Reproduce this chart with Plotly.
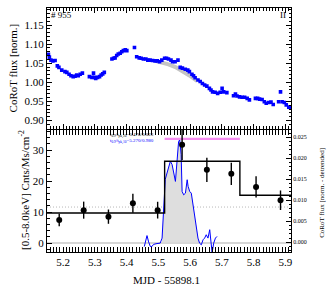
import plotly.graph_objects as go

# ---------------- data ----------------
# Top panel: CoRoT light curve (MJD - 55898.1, normalised flux)
corot_t = [5.154, 5.157, 5.162, 5.168, 5.175, 5.182, 5.187, 5.196, 5.206, 5.212,
           5.219, 5.225, 5.232, 5.238, 5.243, 5.248, 5.254, 5.261,
           5.283, 5.291, 5.296, 5.299, 5.303, 5.309, 5.315, 5.320, 5.325, 5.330,
           5.354, 5.359, 5.364, 5.369, 5.374, 5.380, 5.385, 5.390, 5.396, 5.401,
           5.425, 5.432, 5.440, 5.446, 5.453, 5.461, 5.467, 5.474, 5.482, 5.490,
           5.497, 5.504, 5.511, 5.520, 5.526, 5.532, 5.540, 5.545, 5.553, 5.562,
           5.569, 5.576, 5.585, 5.593, 5.598, 5.606, 5.611, 5.616, 5.625, 5.632,
           5.639, 5.646, 5.653, 5.661, 5.666, 5.671, 5.679, 5.687, 5.695, 5.701,
           5.706, 5.716, 5.737, 5.743, 5.748, 5.756, 5.764, 5.772, 5.780, 5.787,
           5.806, 5.813, 5.819, 5.827, 5.834, 5.840, 5.848, 5.855, 5.862,
           5.879, 5.885, 5.890, 5.897, 5.903, 5.911, 5.916]
corot_f = [1.073, 1.066, 1.058, 1.056, 1.057, 1.043, 1.039, 1.032, 1.028, 1.026,
           1.021, 1.017, 1.015, 1.016, 1.019, 1.017, 1.021, 1.024,
           1.015, 1.013, 1.024, 1.013, 1.010, 1.013, 1.015, 1.019, 1.022, 1.026,
           1.061, 1.063, 1.064, 1.070, 1.074, 1.076, 1.080, 1.083, 1.085, 1.083,
           1.091, 1.067, 1.064, 1.063, 1.061, 1.061, 1.058, 1.058, 1.057, 1.056,
           1.056, 1.054, 1.058, 1.063, 1.063, 1.061, 1.058, 1.054, 1.054, 1.058,
           1.039, 1.037, 1.034, 1.032, 1.028, 1.021, 1.017, 1.012, 1.006, 1.002,
           0.997, 0.993, 0.990, 0.984, 0.980, 0.975, 0.974, 0.971, 0.974, 0.984,
           0.975, 0.973, 0.965, 0.969, 0.964, 0.962, 0.961, 0.961, 0.958, 0.954,
           0.958, 0.958, 0.956, 0.955, 0.949, 0.945, 0.947, 0.948, 0.942,
           0.949, 0.975, 0.949, 0.947, 0.941, 0.935, 0.934]

# Top panel: quiescent trend under the flare (grey band)
trend_t = [5.490, 5.513, 5.532, 5.554, 5.576, 5.598, 5.623]
trend_f = [1.056, 1.052, 1.047, 1.040, 1.030, 1.018, 1.003]

# Bottom panel: X-ray count rate with errors
xray_t = [5.188, 5.265, 5.343, 5.420, 5.498, 5.575, 5.653, 5.730, 5.808, 5.885]
xray_rate = [7.4, 10.6, 8.5, 12.8, 10.6, 31.7, 23.6, 22.3, 18.1, 13.8]
xray_err = [2.0, 2.75, 2.3, 3.05, 2.7, 4.9, 3.9, 3.6, 3.4, 3.15]

# Bayesian blocks
block_edges = [5.1495, 5.520, 5.757, 5.918]
block_rates = [9.7, 26.35, 15.4]
mean_rate = 11.6
flare_span = [5.520, 5.757]
flare_marker_level = 33.6

# Detrended CoRoT flux (right axis)
det_t = [5.456, 5.459, 5.4645, 5.4695, 5.475, 5.480, 5.485, 5.496, 5.506, 5.512,
         5.517, 5.522, 5.5275, 5.5325, 5.538, 5.5435, 5.5485, 5.554, 5.559, 5.564,
         5.5675, 5.572, 5.575, 5.580, 5.5855, 5.591, 5.594, 5.599, 5.604, 5.6095,
         5.6145, 5.620, 5.625, 5.630, 5.6355, 5.641, 5.646, 5.651, 5.6565, 5.662,
         5.667, 5.6695, 5.6745, 5.680, 5.685]
det_f = [-0.0010, 0.0001, 0.0016, 0.0001, -0.0010, -0.0010, -0.0005, -0.0003, -0.0002, 0.0010,
         0.0090, 0.0150, 0.0165, 0.0181, 0.0193, 0.0185, 0.0161, 0.0145, 0.0193, 0.0240,
         0.0244, 0.0209, 0.0121, 0.0113, 0.0117, 0.0149, 0.0133, 0.0121, 0.0117, 0.0090,
         0.0058, 0.0034, 0.0010, -0.0002, -0.0006, 0.0006, 0.0010, 0.0018, 0.0010, 0.0030,
         0.0002, -0.0025, -0.0002, 0.0010, 0.0014]
fill_start, fill_end = 5.510, 5.632

label_black = "t<sub>0.9</sub>/t<sub>pk,10</sub>=0.476/0.023"
label_blue = "t<sub>0.9</sub>/t<sub>pk,10</sub>=5.270/0.980"

# ---------------- figure ----------------
FONT = "Liberation Serif"
fig = go.Figure()

fig.add_trace(go.Scatter(x=trend_t, y=trend_f, mode="lines",
                         line=dict(color="#c4c4c4", width=4), xaxis="x", yaxis="y",
                         hoverinfo="skip"))
fig.add_trace(go.Scatter(x=corot_t, y=corot_f, mode="markers",
                         marker=dict(color="#0000ff", size=3.6, symbol="square", line=dict(width=0)),
                         xaxis="x", yaxis="y"))

fill_t = [t for t in det_t if fill_start <= t <= fill_end]
fill_f = [max(f, 0) for t, f in zip(det_t, det_f) if fill_start <= t <= fill_end]
fig.add_trace(go.Scatter(x=fill_t, y=fill_f, mode="lines", fill="tozeroy",
                         fillcolor="#dedede", line=dict(width=0, color="#dedede"),
                         xaxis="x2", yaxis="y2"))
fig.add_trace(go.Scatter(x=det_t, y=det_f, mode="lines",
                         line=dict(color="#0000ff", width=1), xaxis="x2", yaxis="y2"))

fig.add_trace(go.Scatter(x=block_edges, y=block_rates + [block_rates[-1]], mode="lines",
                         line=dict(color="black", width=1.4, shape="hv"),
                         xaxis="x2", yaxis="y3"))
fig.add_trace(go.Scatter(x=flare_span, y=[flare_marker_level] * 2, mode="lines",
                         line=dict(color="#f58cf0", width=2.2), xaxis="x2", yaxis="y3"))
fig.add_trace(go.Scatter(x=xray_t, y=xray_rate, mode="markers",
                         marker=dict(color="black", size=6),
                         error_y=dict(type="data", array=xray_err, color="black",
                                      thickness=1.4, width=0),
                         xaxis="x2", yaxis="y3", cliponaxis=True))

# reference lines below traces
fig.add_shape(type="line", xref="x2 domain", yref="y3", x0=0, x1=1, y0=0, y1=0,
              line=dict(color="#c8c8c8", width=1.5), layer="below")
fig.add_shape(type="line", xref="x2 domain", yref="y3", x0=0, x1=1, y0=mean_rate, y1=mean_rate,
              line=dict(color="#b8b8b8", width=1, dash="1px,2px"), layer="below")

xr = [5.1495, 5.918]
axis_common = dict(showline=True, linecolor="black", linewidth=1, ticks="inside",
                   tickcolor="black", ticklen=5, showgrid=False, zeroline=False,
                   tickfont=dict(family=FONT, size=11, color="black"))

fig.update_layout(
    width=327, height=287,
    margin=dict(l=47, r=36.3, t=8, b=35),
    paper_bgcolor="white", plot_bgcolor="white",
    showlegend=False,
    font=dict(family=FONT, color="black"),
    xaxis=dict(range=xr, domain=[0, 1], anchor="y", dtick=0.1, tick0=5.0,
               showticklabels=False, mirror="allticks",
               minor=dict(dtick=0.01, ticklen=2.5, ticks="inside", tickcolor="black"),
               **axis_common),
    yaxis=dict(range=[0.879, 1.1945], domain=[0.506, 1], anchor="x", dtick=0.05,
               tickformat=".2f", mirror="allticks",
               minor=dict(dtick=0.01, ticklen=2.5, ticks="inside", tickcolor="black"),
               **axis_common),
    xaxis2=dict(range=xr, domain=[0, 1], anchor="y2", dtick=0.1, tick0=5.0,
                tickformat=".1f", mirror="allticks",
                minor=dict(dtick=0.01, ticklen=2.5, ticks="inside", tickcolor="black"),
                **axis_common),
    yaxis2=dict(range=[-0.00231, 0.02674], domain=[0, 0.5], anchor="x2", side="right",
                dtick=0.005, tickformat=".3f",
                minor=dict(dtick=0.001, ticklen=2.5, ticks="inside", tickcolor="black"),
                showline=True, linecolor="black", linewidth=1, ticks="inside",
                tickcolor="black", ticklen=5, showgrid=False, zeroline=False,
                tickfont=dict(family=FONT, size=6, color="black")),
    yaxis3=dict(range=[-2.9, 36.45], overlaying="y2", anchor="x2", side="left",
                dtick=10, minor=dict(dtick=2, ticklen=2.5, ticks="inside", tickcolor="black"),
                **axis_common),
)

W, H = 243.7, 244.0
def px(xp):
    return (xp - 47) / W
def py(yp):
    return (252 - yp) / H

ann = [
    dict(text="CoRoT flux [norm.]", x=px(13.5), y=py(68), textangle=-90, size=11, xa="center"),
    dict(text="[0.5-8.0keV] Cnts/Ms/cm<sup>-2</sup>", x=px(24), y=py(190), textangle=-90, size=11, xa="center"),
    dict(text="CoRoT flux [norm. - detrended]", x=px(321.5), y=py(193), textangle=-90, size=7, xa="center"),
    dict(text="MJD - 55898.1", x=px(166), y=py(280), textangle=0, size=11, xa="center"),
    dict(text="# 955", x=px(49), y=py(14.5), textangle=0, size=9, xa="left"),
    dict(text="II", x=px(283), y=py(14.5), textangle=0, size=9, xa="center"),
]
for a in ann:
    fig.add_annotation(text=a["text"], x=a["x"], y=a["y"], xref="paper", yref="paper",
                       showarrow=False, textangle=a["textangle"],
                       font=dict(family=FONT, size=a["size"], color="black"),
                       xanchor=a["xa"], yanchor="middle")

fig.add_annotation(text=label_black, x=px(108), y=py(135.5), xref="paper", yref="paper",
                   showarrow=False, xanchor="left", yanchor="middle",
                   font=dict(family=FONT, size=5, color="black"))
fig.add_annotation(text=label_blue, x=px(108), y=py(141), xref="paper", yref="paper",
                   showarrow=False, xanchor="left", yanchor="middle",
                   font=dict(family=FONT, size=5, color="#0000ff"))

fig.write_html("out.html", config={"displayModeBar": False},
               post_script="document.body.style.margin='0px';document.body.style.padding='0px';")
